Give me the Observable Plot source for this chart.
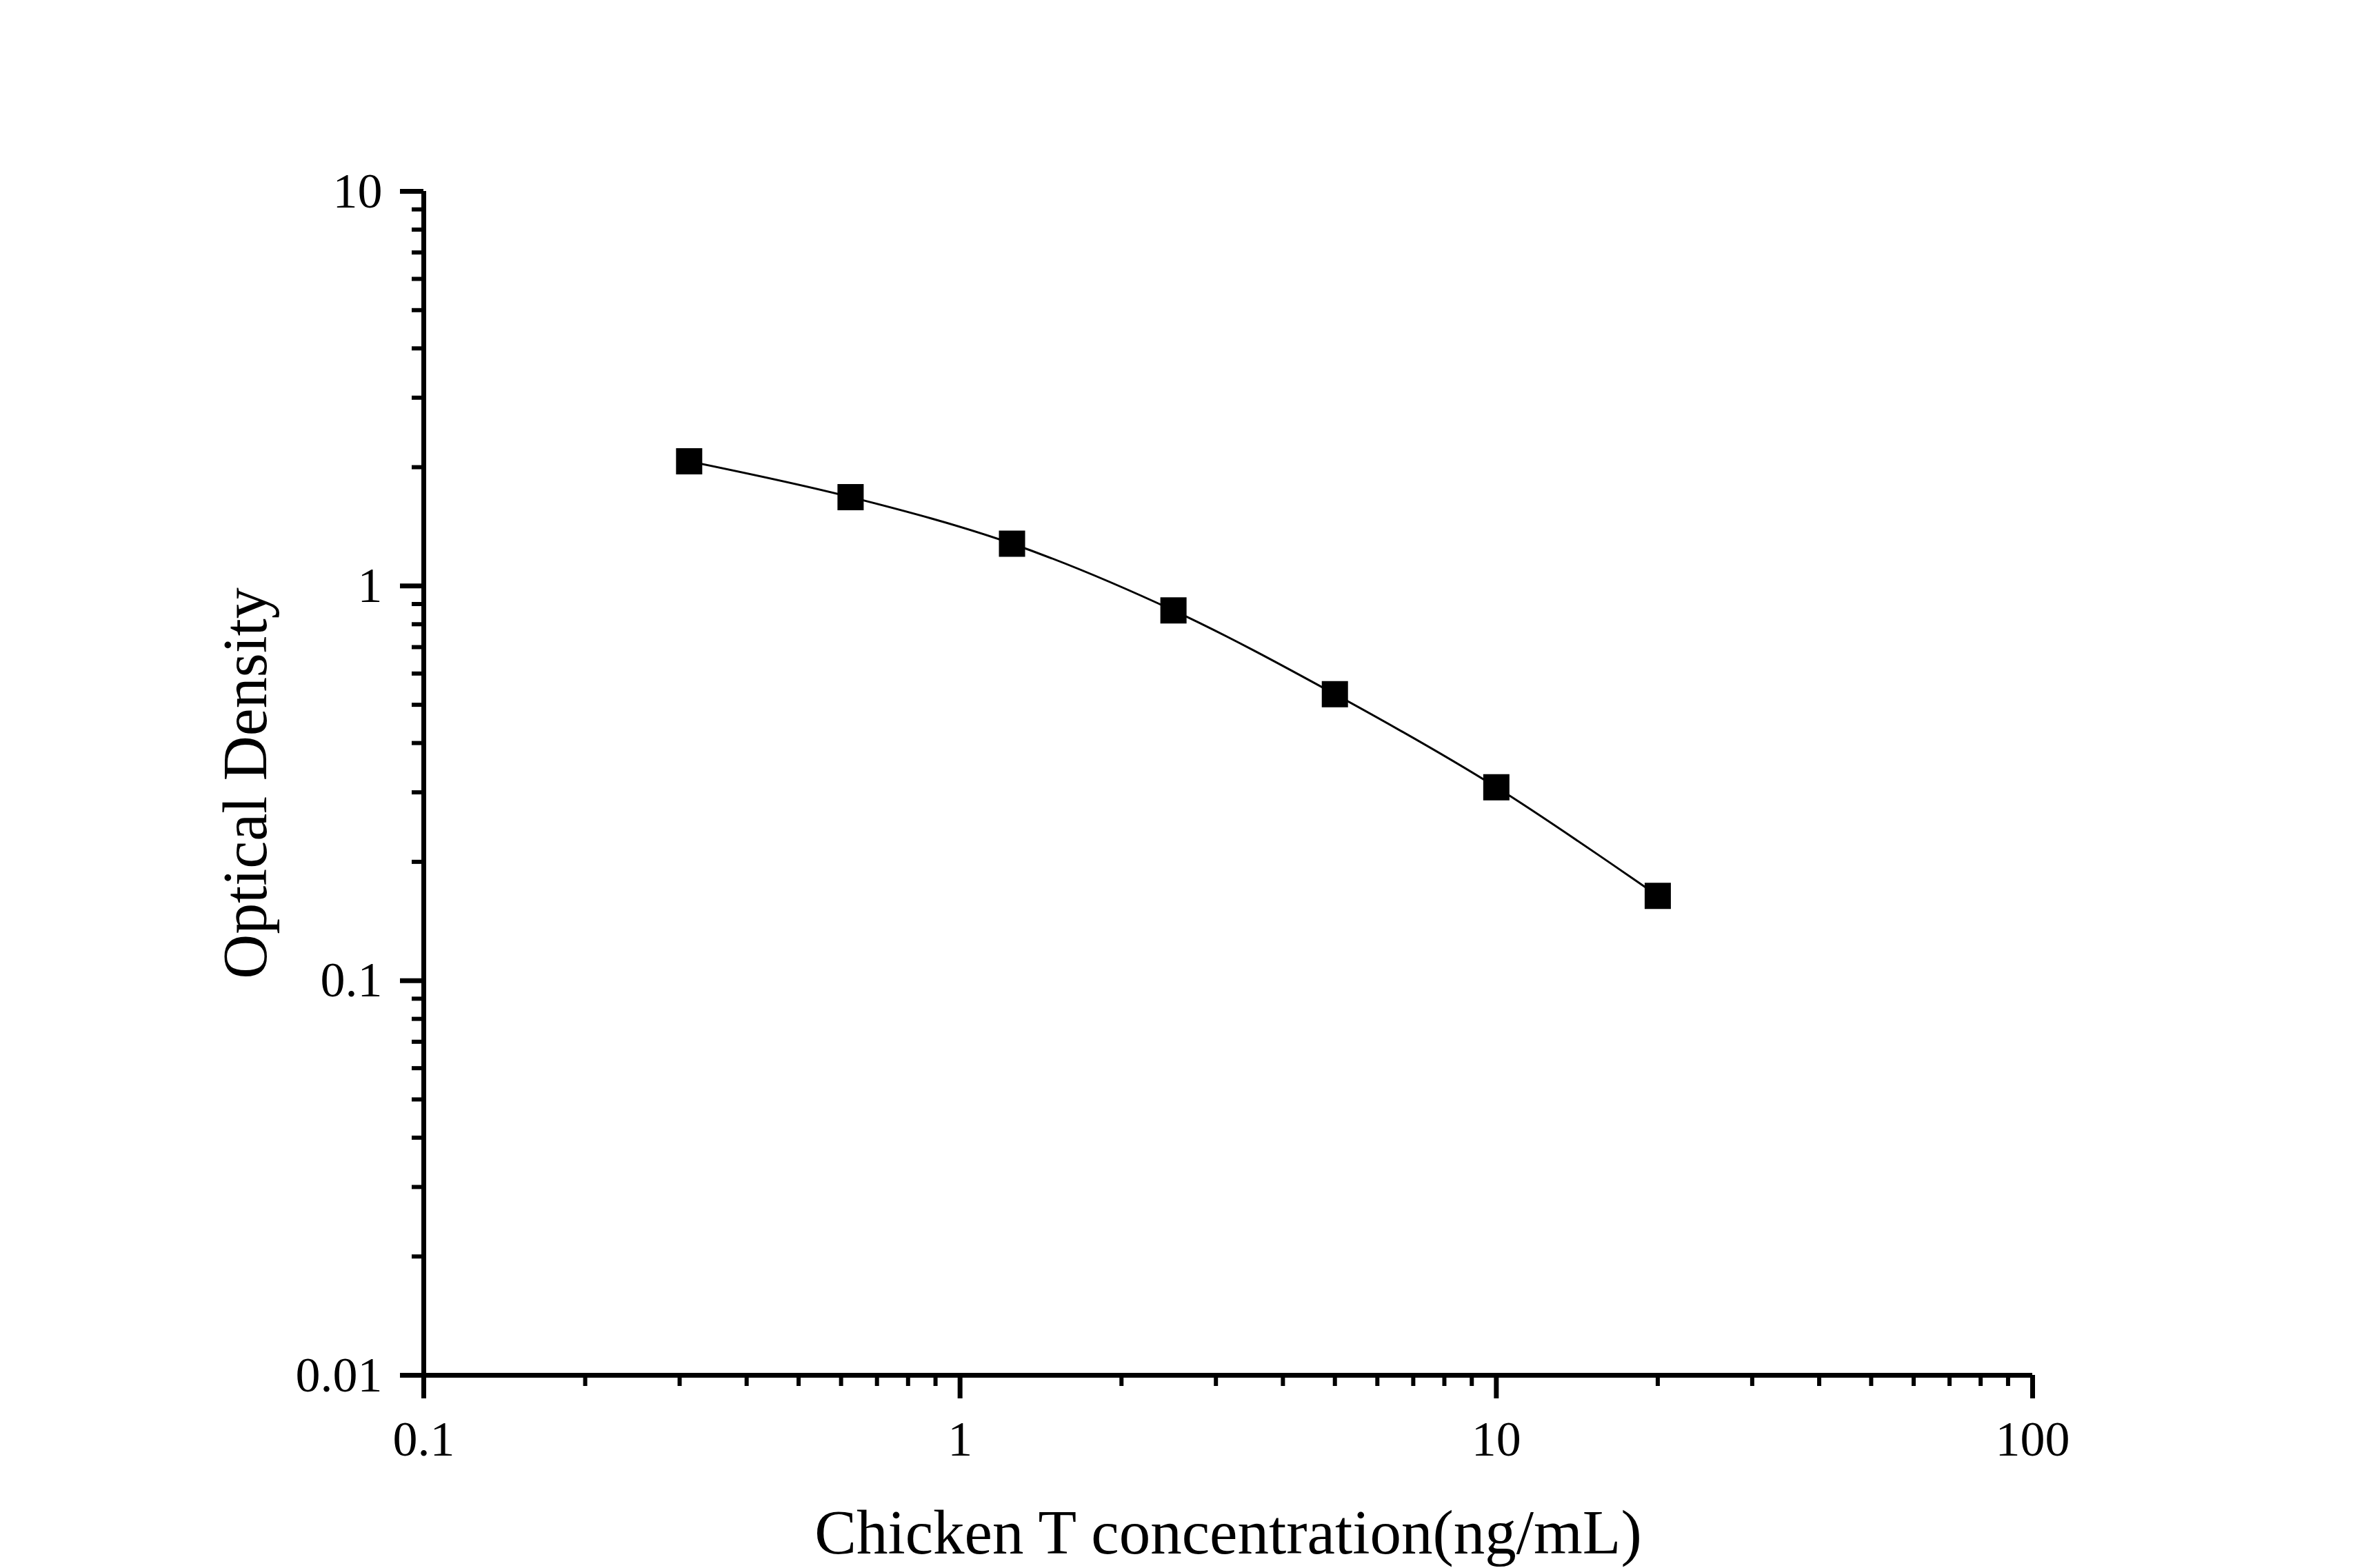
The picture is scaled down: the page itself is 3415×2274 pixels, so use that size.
<!DOCTYPE html>
<html>
<head>
<meta charset="utf-8">
<script src="https://cdn.jsdelivr.net/npm/d3@7"></script>
<script src="https://cdn.jsdelivr.net/npm/@observablehq/plot@0.6"></script>
<style>
  html, body { margin: 0; padding: 0; background: #ffffff; }
  #chart svg { display: block; }
</style>
</head>
<body>
<div id="chart"></div>
<script>
// Data
const concentration = [0.3125, 0.625, 1.25, 2.5, 5, 10, 20];
const opticalDensity = [2.07, 1.68, 1.28, 0.867, 0.532, 0.309, 0.164];

const xTicks = [0.1, 1, 10, 100];
const xTickLabels = ["0.1", "1", "10", "100"];
const yTicks = [0.01, 0.1, 1, 10];
const yTickLabels = ["0.01", "0.1", "1", "10"];
const minorMultipliers = [2, 3, 4, 5, 6, 7, 8, 9];

const xTitle = "Chicken T concentration(ng/mL)";
const yTitle = "Optical Density";

const points = concentration.map((c, i) => ({x: c, y: opticalDensity[i]}));
const xMinor = xTicks.slice(0, -1).flatMap(t => minorMultipliers.map(m => t * m));
const yMinor = yTicks.slice(0, -1).flatMap(t => minorMultipliers.map(m => t * m));

const FONT = "'Liberation Serif', 'Times New Roman', serif";

const chart = Plot.plot({
  width: 3415,
  height: 2274,
  marginLeft: 614,
  marginRight: 468,
  marginTop: 277,
  marginBottom: 280,
  style: {fontFamily: FONT, background: "white", color: "black"},
  x: {type: "log", domain: [0.1, 100]},
  y: {type: "log", domain: [0.01, 10]},
  marks: [
    // minor ticks
    Plot.axisX({ticks: xMinor, tickSize: 16, strokeWidth: 6, stroke: "black", tickFormat: () => "", label: null}),
    Plot.axisY({ticks: yMinor, tickSize: 17, strokeWidth: 6, stroke: "black", tickFormat: () => "", label: null}),
    // major ticks + labels
    Plot.axisX({
      ticks: xTicks, tickSize: 34, strokeWidth: 7, stroke: "black",
      tickPadding: 31, fontSize: 72, fill: "black", label: null,
      tickFormat: d => xTickLabels[xTicks.indexOf(d)]
    }),
    Plot.axisY({
      ticks: yTicks, tickSize: 34, strokeWidth: 7, stroke: "black",
      tickPadding: 26, fontSize: 72, fill: "black", label: null,
      tickFormat: d => yTickLabels[yTicks.indexOf(d)]
    }),
    // axis lines
    Plot.ruleX([0.1], {stroke: "black", strokeWidth: 7}),
    Plot.ruleY([0.01], {stroke: "black", strokeWidth: 7}),
    // curve and points
    Plot.line(points, {x: "x", y: "y", curve: "catmull-rom", stroke: "black", strokeWidth: 3}),
    Plot.dot(points, {x: "x", y: "y", symbol: "square", r: 21.44, fill: "black"}),
    // axis titles
    Plot.text([xTitle], {frameAnchor: "bottom", textAnchor: "middle", lineAnchor: "bottom", dy: 258, fontSize: 91, fill: "black", text: d => d}),
    Plot.text([yTitle], {frameAnchor: "left", textAnchor: "middle", lineAnchor: "bottom", rotate: -90, dx: -229, fontSize: 90, fill: "black", text: d => d})
  ]
});

document.getElementById("chart").appendChild(chart);
</script>
</body>
</html>
